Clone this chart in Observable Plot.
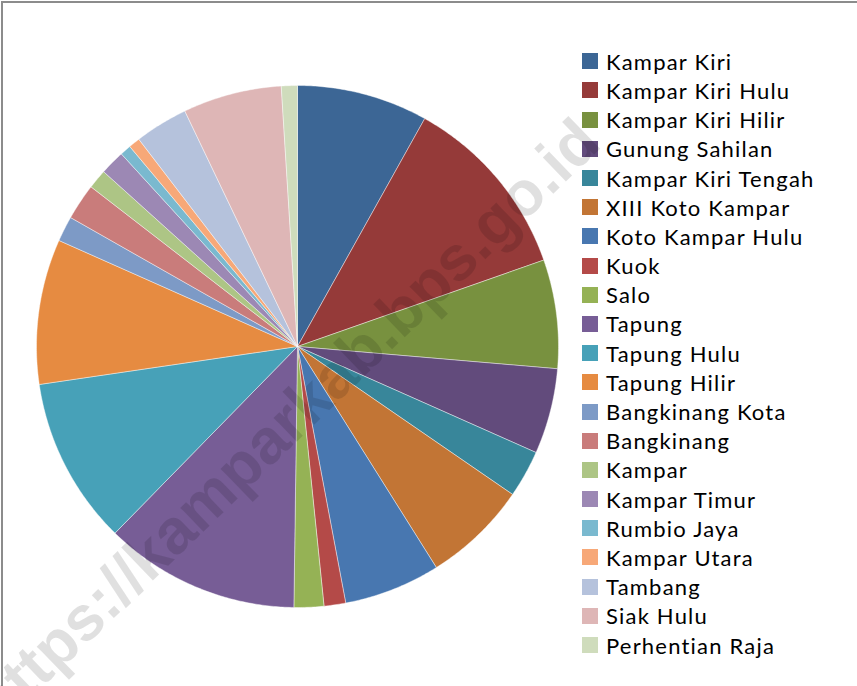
<!DOCTYPE html>
<html>
<head>
<meta charset="utf-8">
<script src="https://cdn.jsdelivr.net/npm/d3@7"></script>
<script src="https://cdn.jsdelivr.net/npm/@observablehq/plot@0.6"></script>
<style>
  html, body { margin: 0; padding: 0; background: #fff; }
  #wrap { position: relative; width: 857px; height: 686px; overflow: hidden; background: #fff; }
  #frame { position: absolute; left: 1px; top: 1px; width: 1000px; height: 1000px; box-sizing: border-box;
           border-top: 2px solid #8c8c8c; border-left: 2px solid #8c8c8c; pointer-events: none; }
  #legend { position: absolute; left: 582px; top: 46.7px; font-family: Lato, "Open Sans", sans-serif;
            font-size: 22px; color: #000; }
  .row { height: 29.2px; display: flex; align-items: center; white-space: nowrap; letter-spacing: 1.2px; }
  .sw { width: 16px; height: 16px; margin-right: 8px; flex: none; }
  #wm { position: absolute; left: 286px; top: 422px; transform: translate(-50%, -50%) rotate(-44deg);
        font-family: "Liberation Sans", Arial, sans-serif; font-weight: bold; font-size: 63px; line-height: 1;
        color: rgba(0,0,0,0.12); white-space: nowrap; pointer-events: none; }
</style>
</head>
<body>
<div id="wrap"></div>
<script>
// Kecamatan (districts) in legend order
const names = [
  "Kampar Kiri", "Kampar Kiri Hulu", "Kampar Kiri Hilir", "Gunung Sahilan", "Kampar Kiri Tengah",
  "XIII Koto Kampar", "Koto Kampar Hulu", "Kuok", "Salo", "Tapung", "Tapung Hulu", "Tapung Hilir",
  "Bangkinang Kota", "Bangkinang", "Kampar", "Kampar Timur", "Rumbio Jaya", "Kampar Utara",
  "Tambang", "Siak Hulu", "Perhentian Raja"
];
// Values (area, km²)
const values = [
  915, 1301, 760, 598, 331,
  732, 674, 151, 208, 1366, 1169, 1014,
  177, 254, 136, 173, 77, 80,
  372, 690, 112
];
const colors = [
  "#3c6695", "#953a39", "#78913f", "#624b7c", "#38869a",
  "#c27535", "#4877b0", "#b44a48", "#95b255", "#775d96", "#47a1b8", "#e68b41",
  "#7d9ac6", "#c97c7b", "#adc585", "#9c88b4", "#7ab9cf", "#f7a878",
  "#b5c2dc", "#deb6b6", "#cfdcbc"
];
const watermark = "https://kamparkab.bps.go.id";

// layout of the pie (pixels)
const W = 857, H = 686, cx = 297, cy = 346, R = 261;

const total = d3.sum(values);
const pts = [];
let acc = 0;
names.forEach((name, i) => {
  const a0 = acc / total * 2 * Math.PI;
  acc += values[i];
  const a1 = acc / total * 2 * Math.PI;
  pts.push({name, x: 0, y: 0});
  const n = Math.max(2, Math.ceil((a1 - a0) / (Math.PI / 360)));
  for (let k = 0; k <= n; k++) {
    const a = a0 + (a1 - a0) * k / n;
    pts.push({name, x: Math.sin(a), y: Math.cos(a)});
  }
  pts.push({name, x: 0, y: 0});
});

const chart = Plot.plot({
  width: W, height: H,
  margin: 0,
  x: {domain: [-cx / R, (W - cx) / R], range: [0, W], axis: null},
  y: {domain: [-(H - cy) / R, cy / R], range: [H, 0], axis: null},
  color: {domain: names, range: colors},
  style: {background: "transparent"},
  marks: [
    Plot.line(pts, {x: "x", y: "y", z: "name", fill: "name", stroke: "#ffffff",
      strokeWidth: 0.6, strokeOpacity: 0.7, curve: "linear-closed"})
  ]
});

const wrap = document.getElementById("wrap");
wrap.appendChild(chart);

const frame = document.createElement("div");
frame.id = "frame";
wrap.appendChild(frame);

const legend = document.createElement("div");
legend.id = "legend";
names.forEach((n, i) => {
  const row = document.createElement("div");
  row.className = "row";
  const sw = document.createElement("div");
  sw.className = "sw";
  sw.style.background = colors[i];
  const t = document.createElement("span");
  t.textContent = n;
  row.appendChild(sw);
  row.appendChild(t);
  legend.appendChild(row);
});
wrap.appendChild(legend);

const wm = document.createElement("div");
wm.id = "wm";
wm.textContent = watermark;
wrap.appendChild(wm);
</script>
</body>
</html>
